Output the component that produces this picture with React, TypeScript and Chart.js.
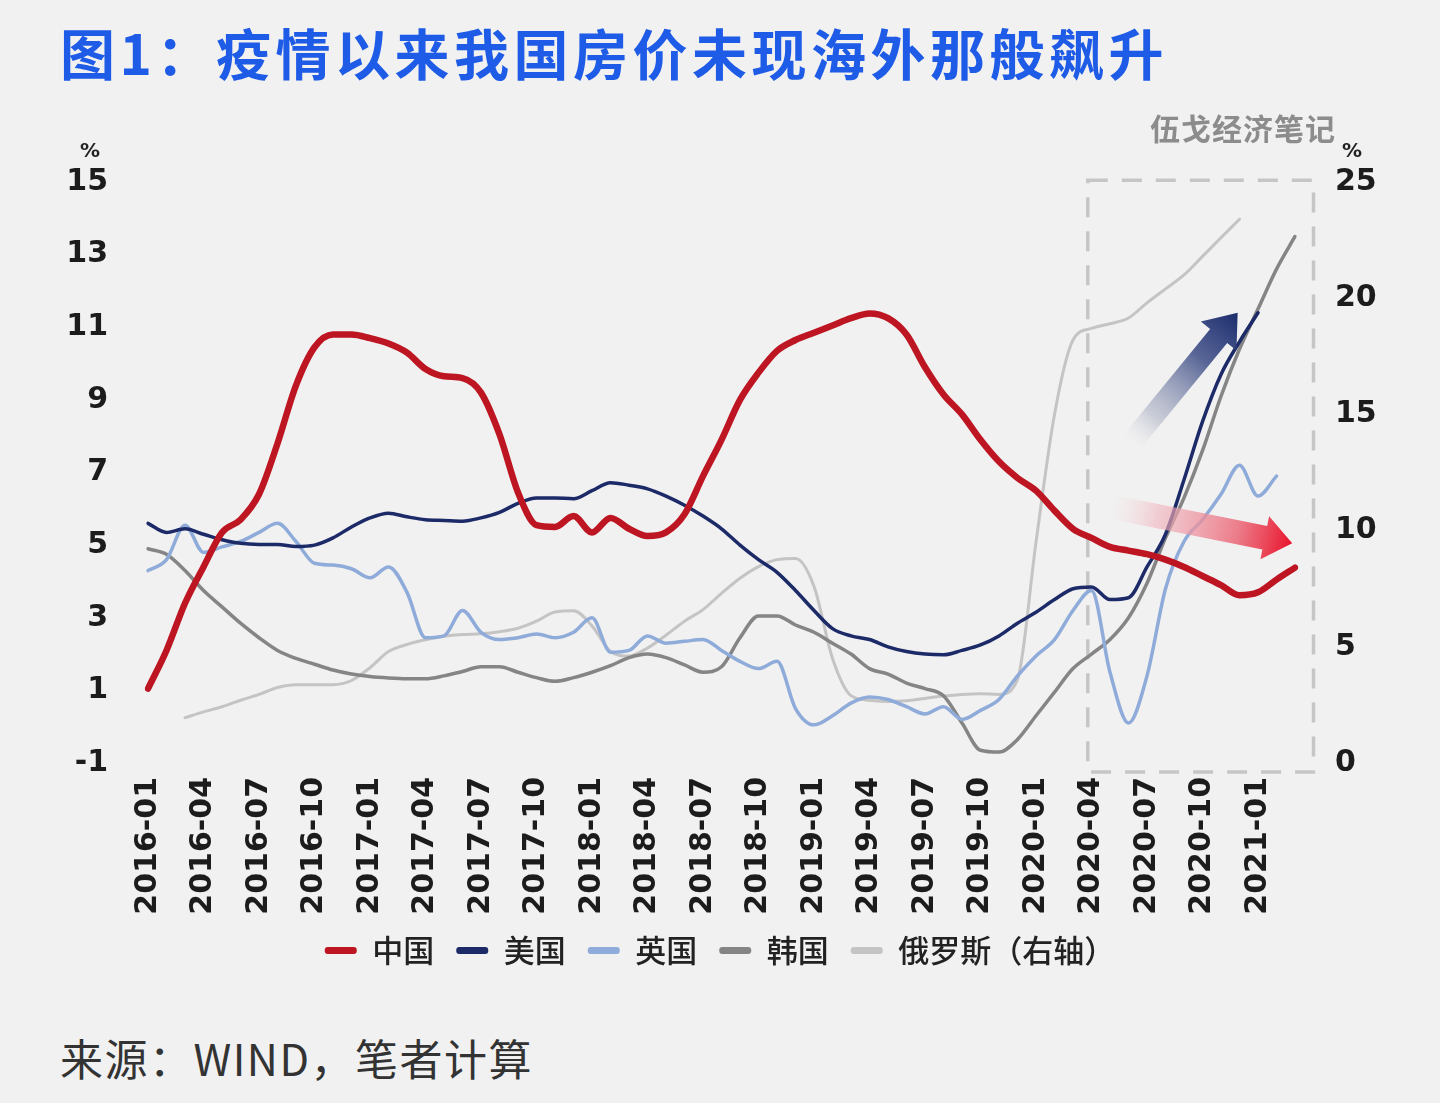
import React, { useEffect, useRef } from 'react';
import { Chart, registerables } from 'chart.js';

Chart.register(...registerables);

// Monthly category labels 2016-01 .. 2021-03
const months: string[] = [];
for (let y = 2016; y <= 2021; y++) {
  for (let m = 1; m <= 12; m++) {
    if (y === 2021 && m > 3) break;
    months.push(`${y}-${String(m).padStart(2, '0')}`);
  }
}

const seriesNames = ['中国', '美国', '英国', '韩国', '俄罗斯（右轴）'];

// 中国 (left axis, %)
const china = [
  1.05, 2.1, 3.4, 4.4, 5.35, 5.7, 6.4, 7.8, 9.4, 10.45,
  10.8, 10.8, 10.7, 10.55, 10.3, 9.85, 9.65, 9.6, 9.2, 8.05,
  6.45, 5.55, 5.5, 5.8, 5.35, 5.75, 5.45, 5.25, 5.35, 5.85,
  6.9, 7.9, 9.0, 9.75, 10.35, 10.65, 10.85, 11.05, 11.25, 11.38,
  11.25, 10.8, 9.9, 9.15, 8.6, 7.9, 7.3, 6.85, 6.5, 5.95,
  5.45, 5.2, 4.95, 4.85, 4.75, 4.6, 4.4, 4.15, 3.9, 3.62,
  3.7, 4.05, 4.38,
];

// 美国 (left axis, %)
const usa = [
  5.6, 5.35, 5.45, 5.3, 5.15, 5.05, 5.02, 5.02, 4.96, 5.0,
  5.2, 5.5, 5.75, 5.88, 5.78, 5.7, 5.68, 5.66, 5.75, 5.9,
  6.15, 6.3, 6.3, 6.28, 6.5, 6.72, 6.65, 6.55, 6.35, 6.1,
  5.8, 5.45, 5.0, 4.6, 4.25, 3.75, 3.2, 2.7, 2.5, 2.4,
  2.2, 2.07, 2.0, 1.98, 2.1, 2.25, 2.5, 2.85, 3.15, 3.5,
  3.8, 3.85, 3.5, 3.55, 4.4, 5.3, 6.8, 8.4, 9.7, 10.6,
  11.4, null, null,
];

// 英国 (left axis, %)
const uk = [
  4.3, 4.6, 5.55, 4.8, 4.95, 5.1, 5.35, 5.6, 5.1, 4.5,
  4.45, 4.35, 4.1, 4.4, 3.7, 2.45, 2.5, 3.2, 2.6, 2.4,
  2.45, 2.55, 2.45, 2.6, 3.0, 2.05, 2.1, 2.5, 2.3, 2.35,
  2.4, 2.1, 1.8, 1.6, 1.8, 0.5, 0.05, 0.3, 0.65, 0.82,
  0.75, 0.55, 0.35, 0.55, 0.2, 0.45, 0.75, 1.4, 1.95, 2.4,
  3.2, 3.75, 1.5, 0.1, 1.4, 3.8, 5.1, 5.7, 6.4, 7.2,
  6.35, 6.9, null,
];

// 韩国 (left axis, %)
const korea = [
  4.9, 4.75, 4.3, 3.75, 3.3, 2.85, 2.45, 2.1, 1.88, 1.72,
  1.56, 1.45, 1.38, 1.34, 1.32, 1.32, 1.4, 1.52, 1.65, 1.65,
  1.5, 1.35, 1.25, 1.35, 1.5, 1.68, 1.9, 2.0, 1.9, 1.7,
  1.5, 1.65, 2.45, 3.05, 3.05, 2.8, 2.6, 2.3, 2.0, 1.6,
  1.45, 1.2, 1.05, 0.85, 0.1, -0.65, -0.7, -0.35, 0.3, 0.95,
  1.6, 2.0, 2.4, 3.0, 3.95, 5.2, 6.3, 7.6, 9.1, 10.4,
  11.5, 12.6, 13.5,
];

// 俄罗斯 (right axis, %)
const russia = [
  null, null, 1.95, 2.2, 2.42, 2.7, 2.95, 3.25, 3.37, 3.37,
  3.37, 3.55, 4.1, 4.8, 5.1, 5.3, 5.45, 5.53, 5.56, 5.65,
  5.8, 6.1, 6.5, 6.55, 5.9, 4.8, 4.6, 4.95, 5.5, 6.1,
  6.6, 7.3, 7.95, 8.45, 8.75, 8.8, 7.6, 4.5, 2.9, 2.7,
  2.65, 2.68, 2.78, 2.88, 2.95, 2.98, 2.95, 3.6, 9.5, 15.0,
  18.2, 18.7, 18.9, 19.15, 19.8, 20.4, 21.0, 21.8, 22.6, 23.4,
  null, null, null,
];

const leftAxis = { min: -1, max: 15, step: 2 };
const rightAxis = { min: 0, max: 25, step: 5 };
const tickEvery = 3;

// Highlight box in data units (category index / left-axis value)
const highlightBox = { fromIndex: 50.8, toIndex: 63, top: 15.05, bottom: -1.25 };
// Arrows in data units: [category index, left-axis value]
const upArrow = { from: [53.2, 7.85], to: [58.9, 11.4] };
const flatArrow = { from: [52.1, 6.05], to: [61.85, 5.05] };

const colors = ['#bd1622', '#1c2a68', '#8eabd9', '#858585', '#c4c4c4'];
const widths = [6.5, 3.5, 3.5, 3.5, 3];

const tickFont = { family: 'DejaVu Sans', size: 30, weight: 'bold' as const };
const tickColor = '#1c1c1c';

function drawArrow(
  ctx: CanvasRenderingContext2D,
  x0: number, y0: number, x1: number, y1: number,
  shaft: number, headW: number, headL: number,
  stops: [number, string][]
) {
  const dx = x1 - x0, dy = y1 - y0;
  const len = Math.hypot(dx, dy);
  const ux = dx / len, uy = dy / len;
  const nx = -uy, ny = ux;
  const bx = x1 - ux * headL, by = y1 - uy * headL;
  const g = ctx.createLinearGradient(x0, y0, x1, y1);
  stops.forEach(([o, c]) => g.addColorStop(o, c));
  ctx.beginPath();
  ctx.moveTo(x0 + nx * shaft / 2, y0 + ny * shaft / 2);
  ctx.lineTo(bx + nx * shaft / 2, by + ny * shaft / 2);
  ctx.lineTo(bx + nx * headW / 2, by + ny * headW / 2);
  ctx.lineTo(x1, y1);
  ctx.lineTo(bx - nx * headW / 2, by - ny * headW / 2);
  ctx.lineTo(bx - nx * shaft / 2, by - ny * shaft / 2);
  ctx.lineTo(x0 - nx * shaft / 2, y0 - ny * shaft / 2);
  ctx.closePath();
  ctx.fillStyle = g;
  ctx.fill();
}

const boxPlugin = {
  id: 'highlightBox',
  beforeDatasetsDraw(chart: any) {
    const { ctx, scales } = chart;
    const x0 = scales.x.getPixelForValue(highlightBox.fromIndex);
    const x1 = scales.x.getPixelForValue(highlightBox.toIndex);
    const y0 = scales.y.getPixelForValue(highlightBox.top);
    const y1 = scales.y.getPixelForValue(highlightBox.bottom);
    ctx.save();
    ctx.strokeStyle = '#c6c6c6';
    ctx.lineWidth = 3.5;
    ctx.setLineDash([20, 14]);
    ctx.strokeRect(x0, y0, x1 - x0, y1 - y0);
    ctx.restore();
  },
};

const arrowPlugin = {
  id: 'trendArrows',
  afterDatasetsDraw(chart: any) {
    const { ctx, scales } = chart;
    const px = (p: number[]) => [scales.x.getPixelForValue(p[0]), scales.y.getPixelForValue(p[1])];
    ctx.save();
    const [a0x, a0y] = px(upArrow.from);
    const [a1x, a1y] = px(upArrow.to);
    drawArrow(ctx, a0x, a0y, a1x, a1y, 22, 46, 30, [
      [0, 'rgba(215,215,220,0)'],
      [0.2, 'rgba(170,175,195,0.55)'],
      [0.65, 'rgba(70,85,140,0.9)'],
      [1, '#1b2c6c'],
    ]);
    const [b0x, b0y] = px(flatArrow.from);
    const [b1x, b1y] = px(flatArrow.to);
    drawArrow(ctx, b0x, b0y, b1x, b1y, 24, 44, 28, [
      [0, 'rgba(245,215,220,0)'],
      [0.25, 'rgba(240,180,190,0.6)'],
      [0.7, 'rgba(235,110,125,0.9)'],
      [1, '#e8132b'],
    ]);
    ctx.restore();
  },
};

const unitPlugin = {
  id: 'unitLabels',
  afterDraw(chart: any) {
    const { ctx, scales, chartArea } = chart;
    ctx.save();
    ctx.font = 'bold 20px "DejaVu Sans"';
    ctx.fillStyle = '#222';
    ctx.textAlign = 'center';
    ctx.textBaseline = 'middle';
    ctx.fillText('%', scales.y.right - 58, chartArea.top - 30);
    ctx.fillText('%', scales.y1.left + 57, chartArea.top - 30);
    ctx.restore();
  },
};

export default function App() {
  const ref = useRef<HTMLCanvasElement>(null);

  useEffect(() => {
    const canvas = ref.current!;
    const series = [china, usa, uk, korea, russia];
    const chart = new Chart(canvas, {
      type: 'line',
      data: {
        labels: months,
        datasets: series.map((d, i) => ({
          label: seriesNames[i],
          data: d,
          borderColor: colors[i],
          backgroundColor: colors[i],
          borderWidth: widths[i],
          pointRadius: 0,
          fill: false,
          cubicInterpolationMode: 'monotone' as const,
          borderCapStyle: 'round' as const,
          borderJoinStyle: 'round' as const,
          yAxisID: i === 4 ? 'y1' : 'y',
          spanGaps: false,
        })),
      },
      options: {
        animation: false,
        responsive: false,
        maintainAspectRatio: false,
        layout: { padding: { top: 182, left: 0, right: 0, bottom: 24 } },
        plugins: {
          tooltip: { enabled: false },
          title: { display: false },
          legend: {
            position: 'bottom',
            labels: {
              boxWidth: 32,
              boxHeight: 7,
              padding: 22,
              color: '#222',
              useBorderRadius: true,
              borderRadius: 3,
              font: { family: 'Noto Sans CJK SC', size: 31, weight: '500' },
              generateLabels: (c: any) => {
                const items = (Chart.defaults.plugins.legend.labels as any).generateLabels(c);
                items.forEach((it: any) => {
                  it.fillStyle = it.strokeStyle;
                  it.lineWidth = 0;
                  it.borderRadius = 3;
                });
                return items;
              },
            },
          },
        },
        scales: {
          x: {
            grid: { display: false, drawTicks: false },
            border: { display: false },
            ticks: {
              autoSkip: false,
              minRotation: 90,
              maxRotation: 90,
              padding: 14,
              font: tickFont,
              color: tickColor,
              callback: (_v: any, i: number) => (i % tickEvery === 0 ? months[i] : ''),
            },
            afterFit: (s: any) => { s.height = 150; },
          },
          y: {
            position: 'left',
            min: leftAxis.min,
            max: leftAxis.max,
            grid: { display: false, drawTicks: false },
            border: { display: false },
            ticks: { stepSize: leftAxis.step, padding: 40, font: tickFont, color: tickColor },
            afterFit: (s: any) => { s.width = 148; },
          },
          y1: {
            position: 'right',
            min: rightAxis.min,
            max: rightAxis.max,
            grid: { display: false, drawTicks: false },
            border: { display: false },
            ticks: { stepSize: rightAxis.step, padding: 40, font: tickFont, color: tickColor },
            afterFit: (s: any) => { s.width = 145; },
          },
        },
      } as any,
      plugins: [boxPlugin, arrowPlugin, unitPlugin],
    });
    return () => chart.destroy();
  }, []);

  return (
    <div
      style={{
        position: 'fixed',
        left: 0,
        top: 0,
        width: 1440,
        height: 1103,
        background: '#f1f1f1',
        overflow: 'hidden',
      }}
    >
      <canvas
        ref={ref}
        width={1440}
        height={1000}
        style={{ position: 'absolute', left: 0, top: 0, width: 1440, height: 1000 }}
      />
      <div
        style={{
          position: 'absolute',
          left: 60,
          top: 24,
          font: 'bold 55px "Noto Sans CJK SC"',
          lineHeight: '55px',
          letterSpacing: '4.5px',
          color: '#1e5be6',
          whiteSpace: 'nowrap',
        }}
      >
        图1：疫情以来我国房价未现海外那般飙升
      </div>
      <div
        style={{
          position: 'absolute',
          left: 1150,
          top: 112,
          font: 'bold 30px "Noto Sans CJK SC"',
          lineHeight: '30px',
          letterSpacing: '1px',
          color: '#8c8c8c',
          whiteSpace: 'nowrap',
        }}
      >
        伍戈经济笔记
      </div>
      <div
        style={{
          position: 'absolute',
          left: 60,
          top: 1036,
          font: '43px "Noto Sans CJK SC"',
          lineHeight: '43px',
          letterSpacing: '1.5px',
          color: '#333',
          whiteSpace: 'nowrap',
        }}
      >
        来源：WIND，笔者计算
      </div>
    </div>
  );
}
